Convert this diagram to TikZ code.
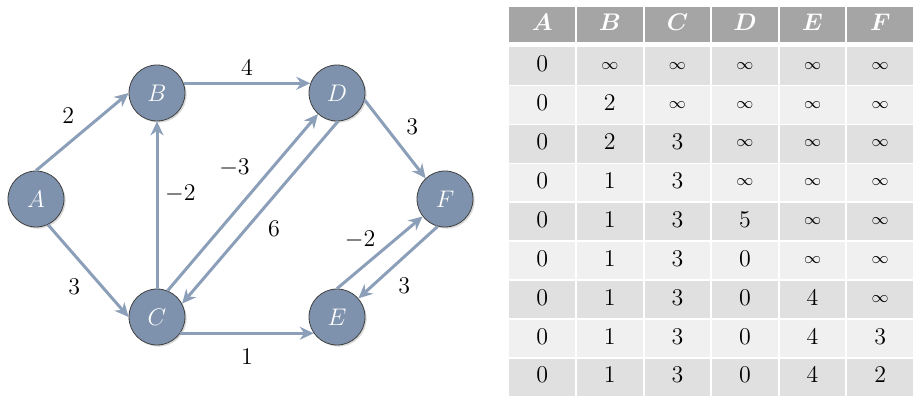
\documentclass[tikz,border=0pt]{standalone}
\usepackage{amsmath}
\usepackage{xcolor}
\usepackage{tikz}
\usetikzlibrary{arrows.meta,matrix,shadows}
\definecolor{VertexBlue}{HTML}{7F92AD}
\definecolor{LinkBlue}{HTML}{8C9FB9}
\definecolor{HeadGray}{HTML}{A5A5A5}
\definecolor{RowDark}{HTML}{E0E0E0}
\definecolor{RowLight}{HTML}{F0F0F0}
\newcommand{\unreached}{\vcenter{\hbox{$\scriptstyle\infty$}}}

\begin{document}
\begin{tikzpicture}[
  x=0.5pt, y=-0.5pt,
  vertex/.style={circle, draw=black!75, fill=VertexBlue, text=white, minimum size=28pt, inner sep=0pt, font=\large,
    drop shadow={opacity=0.3, shadow xshift=0.8pt, shadow yshift=-0.8pt}},
  link/.style={-{Stealth[length=7pt, width=6.5pt]}, draw=LinkBlue, line width=1.5pt},
  weight/.style={font=\large, text=black},
  cell/.style={minimum width=32.8pt, minimum height=18.7pt, inner sep=0pt, anchor=center,
    text height=1.6ex, text depth=0.3ex, font=\fontsize{11.5}{13}\selectfont}
]
\useasboundingbox (0,0) rectangle (918,401);

\node[vertex] (A) at (36,199) {$A$};
\node[vertex] (B) at (157,93) {$B$};
\node[vertex] (D) at (337,93) {$D$};
\node[vertex] (C) at (157,317) {$C$};
\node[vertex] (E) at (337,317) {$E$};
\node[vertex] (F) at (445,199) {$F$};

\draw[link] (A.north) -- node[weight, above left] {$2$} (B.west);
\draw[link] (A.-65) -- node[weight, below left] {$3$} (C.west);
\draw[link] (B.20) -- node[weight, above] {$4$} (D.160);
\draw[link] (C.north) -- node[weight, pos=0.57, right] {$-2$} (B.south);
\draw[link] (C.68) -- node[weight, pos=0.6, above left] {$-3$} (D.228);
\draw[link] (D.-88) -- node[weight, below right] {$6$} (C.28);
\draw[link] (D.-14) -- node[weight, pos=0.55, above right] {$3$} (F.133);
\draw[link] (C.-35) -- node[weight, below=4pt] {$1$} (E.215);
\draw[link] (E.north) -- node[weight, above left, inner sep=1.5pt] {$-2$} (F.218);
\draw[link] (F.-105) -- node[weight, pos=0.6, below right] {$3$} (E.41);

\matrix (dist) [matrix of math nodes, anchor=north west, inner sep=0pt,
  column sep=1pt, row sep=0.75pt, nodes={cell, fill=RowLight},
  every even row/.style={nodes={fill=RowDark}},
  row 1/.style={nodes={fill=HeadGray, text=white, font=\large, minimum height=17.5pt}}] at (509,7) {
  \boldsymbol{A} & \boldsymbol{B} & \boldsymbol{C} & \boldsymbol{D} & \boldsymbol{E} & \boldsymbol{F} \\[1.75pt]
  0 & \unreached & \unreached & \unreached & \unreached & \unreached \\
  0 & 2 & \unreached & \unreached & \unreached & \unreached \\
  0 & 2 & 3 & \unreached & \unreached & \unreached \\
  0 & 1 & 3 & \unreached & \unreached & \unreached \\
  0 & 1 & 3 & 5 & \unreached & \unreached \\
  0 & 1 & 3 & 0 & \unreached & \unreached \\
  0 & 1 & 3 & 0 & 4 & \unreached \\
  0 & 1 & 3 & 0 & 4 & 3 \\
  0 & 1 & 3 & 0 & 4 & 2 \\
};
\end{tikzpicture}
\end{document}
